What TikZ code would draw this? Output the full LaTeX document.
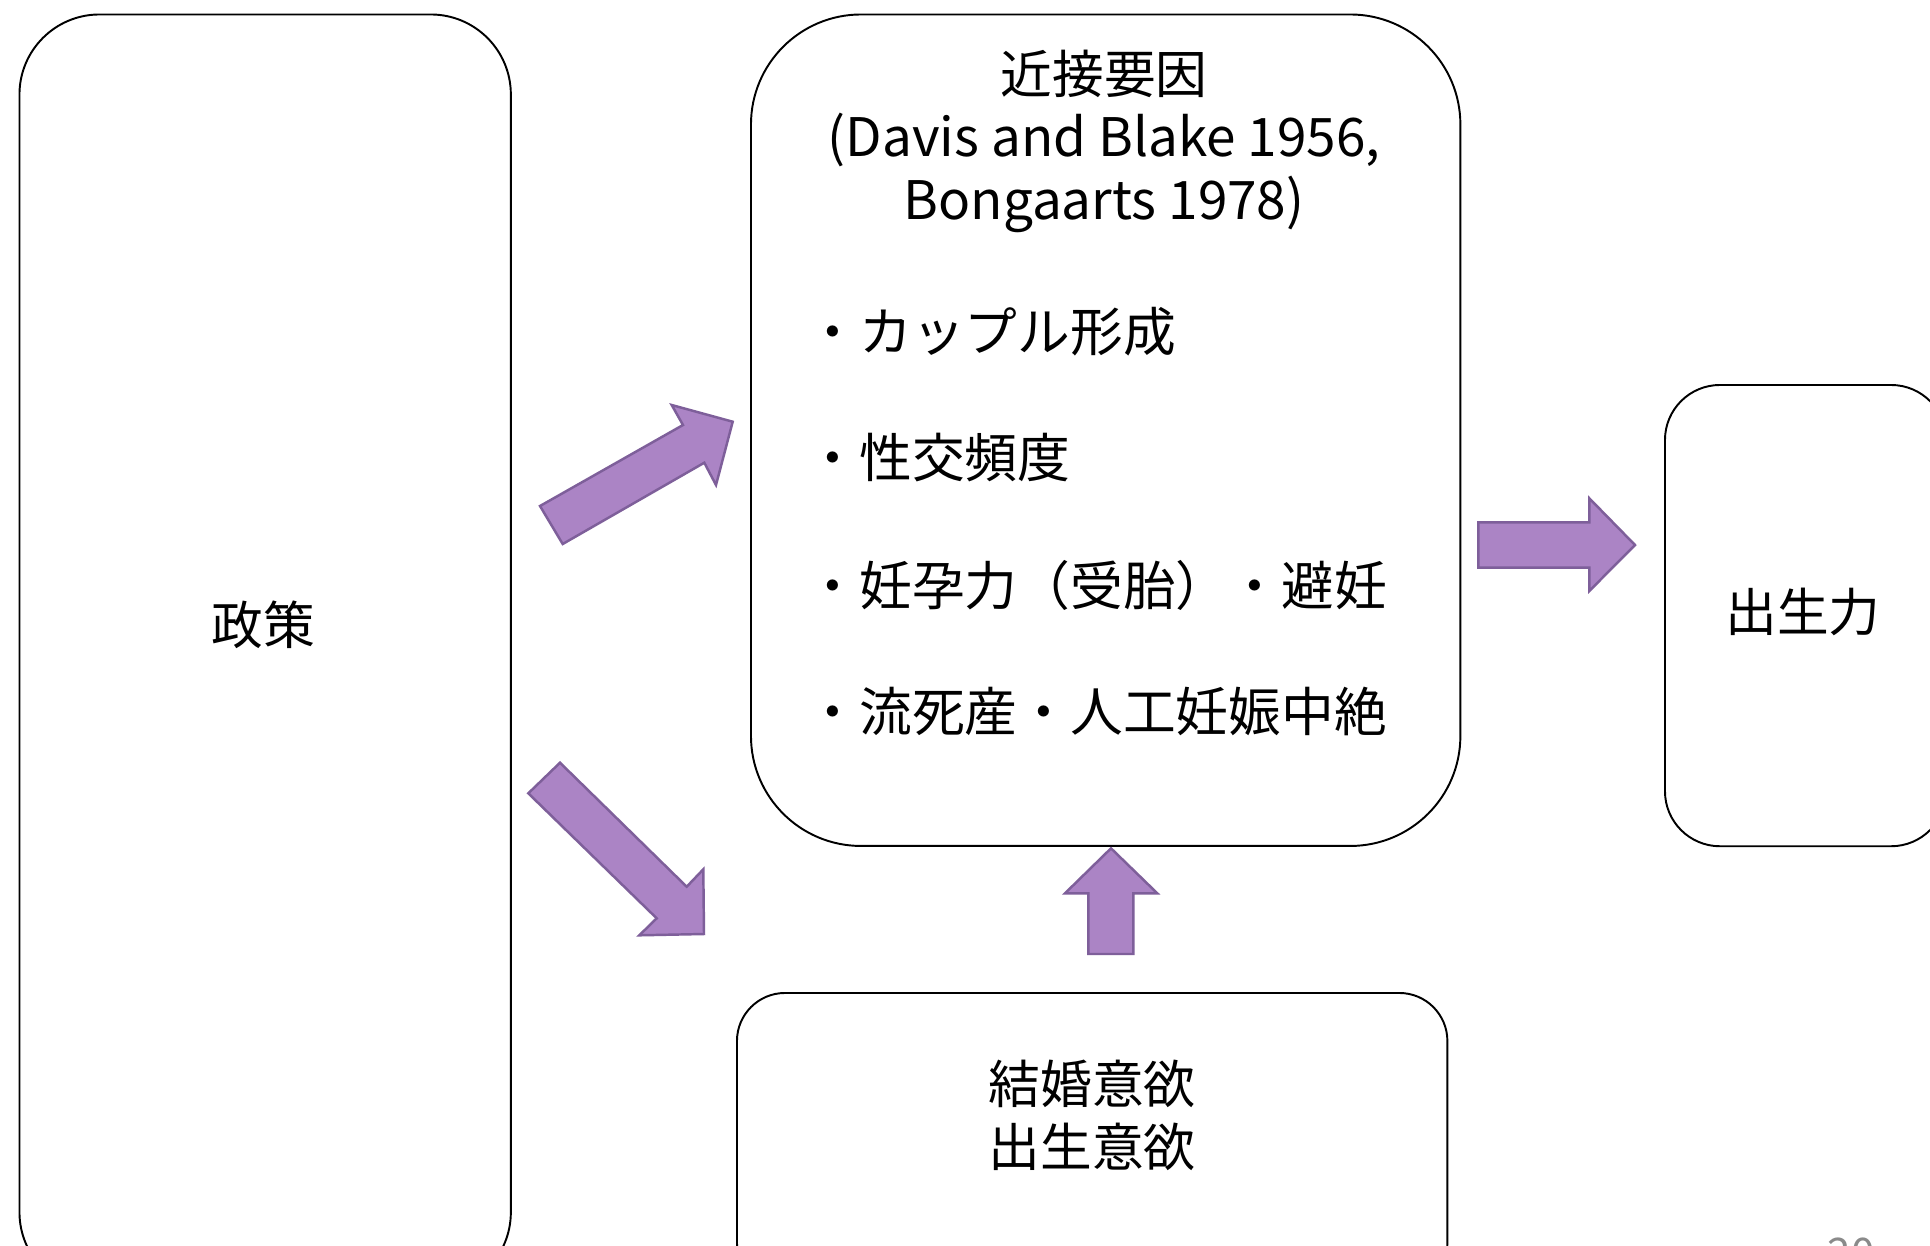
\documentclass[tikz,border=0pt]{standalone}
\usepackage{fontspec}
\setmainfont{Noto Sans CJK JP}
\definecolor{arrowfill}{HTML}{AB84C5}
\definecolor{arrowline}{HTML}{7E5F9A}
\definecolor{pagegray}{HTML}{8A8A8A}
\tikzset{
  box/.style={draw=black, line width=0.55pt, fill=none, inner sep=0pt, anchor=north west},
  txt/.style={inner sep=0pt, font=\fontsize{14.7pt}{17.9pt}\selectfont},
  bullet/.style={inner sep=0pt, anchor=west, font=\fontsize{15pt}{18pt}\selectfont},
  blockarrow/.style={fill=arrowfill, draw=arrowline, line width=0.7pt, line join=miter}
}
\begin{document}
\begin{tikzpicture}[x=0.01cm,y=-0.01cm]
\useasboundingbox (0,0) rectangle (1930,1245);
\clip (0,0) rectangle (1930,1245);
\fill[white] (0,0) rectangle (1930,1245);
% boxes
\node[box, rounded corners=0.8cm, minimum width=4.911cm, minimum height=12.77cm] (policy) at (18.5,13.5) {};
\node[box, rounded corners=1.1cm, minimum width=7.09cm, minimum height=8.31cm] (proximate) at (750,13.5) {};
\node[box, rounded corners=0.55cm, minimum width=2.81cm, minimum height=4.61cm] (fertility) at (1664,384) {};
\node[box, rounded corners=0.48cm, minimum width=7.10cm, minimum height=2.98cm] (intention) at (736,992) {};
% texts
\node[txt] (policytext) at (263,625) {政策};
\node[txt, align=center] (proxtitle) at (1104,141) {近接要因\\{\fontsize{15.1pt}{17.9pt}\selectfont (Davis and Blake 1956,}\\{\fontsize{15.1pt}{17.9pt}\selectfont Bongaarts 1978)}};
\node[bullet] (b1) at (806,332) {・カップル形成};
\node[bullet] (b2) at (806,458) {・性交頻度};
\node[bullet] (b3) at (806,585) {・妊孕力（受胎）・避妊};
\node[bullet] (b4) at (806,711.5) {・流死産・人工妊娠中絶};
\node[txt] (fertext) at (1803,612) {出生力};
\node[txt, align=center] (inttext) at (1092,1115) {結婚意欲\\出生意欲};
\node[inner sep=0pt, anchor=north, text=pagegray, font=\fontsize{12pt}{14pt}\selectfont] (pagenum) at (1851,1237) {20};
% block arrows
\draw[blockarrow] (540,506) -- (683,425) -- (671.7,405) -- (732.7,421.7) -- (716,485) -- (704.3,462.7) -- (562.7,544) -- cycle;
\draw[blockarrow] (528.3,793.3) -- (560,762.7) -- (686.7,886.7) -- (703.3,869.3) -- (704,934) -- (639.3,935.3) -- (656.7,918.3) -- cycle;
\draw[blockarrow] (1111,848.3) -- (1157.3,893.3) -- (1133.3,893.3) -- (1133.3,954) -- (1088.3,954) -- (1088.3,893.3) -- (1065,893.3) -- cycle;
\draw[blockarrow] (1478.3,522.3) -- (1589.3,522.3) -- (1589.3,498.3) -- (1635,545) -- (1589.3,591) -- (1589.3,567.7) -- (1478.3,567.7) -- cycle;
\end{tikzpicture}
\end{document}
